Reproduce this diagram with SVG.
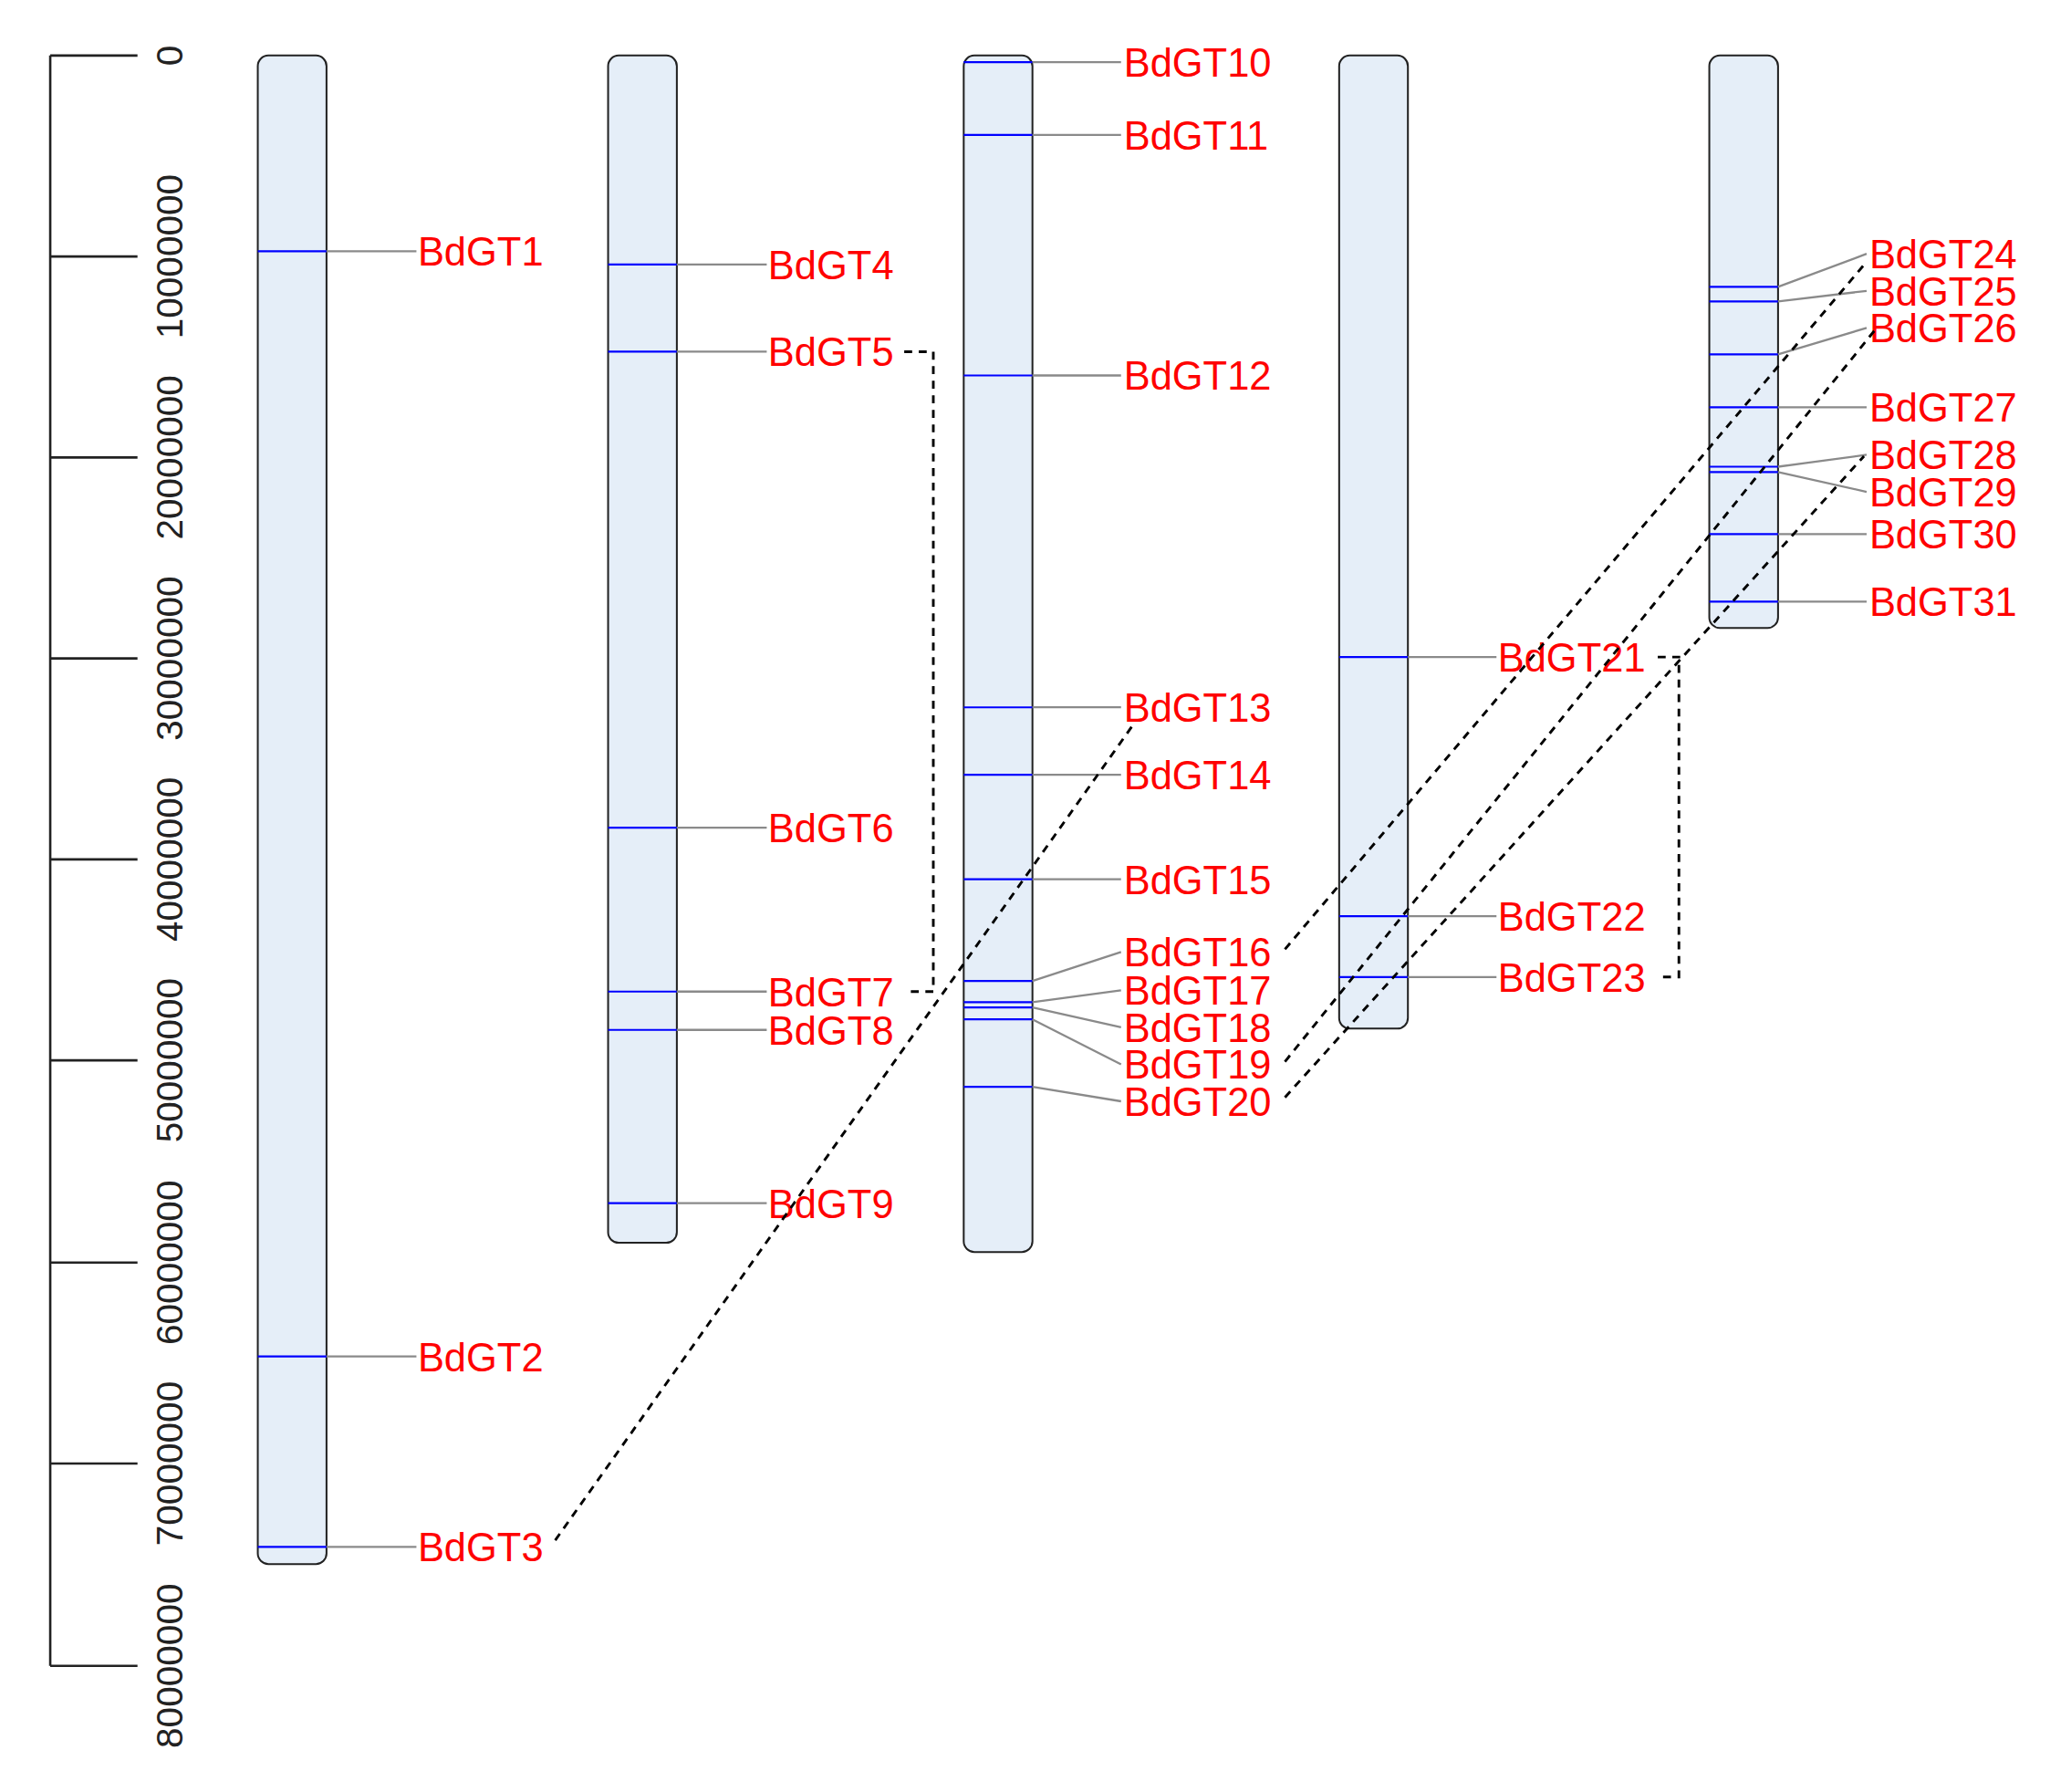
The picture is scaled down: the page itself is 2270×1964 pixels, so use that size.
<svg xmlns="http://www.w3.org/2000/svg" width="2270" height="1964" viewBox="0 0 2270 1964">
<style>
.chr{fill:#e5eef8;stroke:#222;stroke-width:1.4}
.band{stroke:#0000ff;stroke-width:1.5}
.lead{stroke:#8a8a8a;stroke-width:1.6;fill:none}
.lab{fill:#ff0000;font-family:"Liberation Sans",Arial,sans-serif;font-size:30px}
.ax{stroke:#222;stroke-width:1.8;fill:none}
.axl{fill:#222;font-family:"Liberation Sans",Arial,sans-serif;font-size:28px;text-anchor:middle}
.dash{stroke:#000;stroke-width:2;fill:none;stroke-dasharray:6,5}
</style>
<rect width="2270" height="1964" fill="#fff"/>
<g transform="scale(1.449)">
<g id="axis">
<path class="ax" d="M38,42V1260M38,42H104M38,194H104M38,346H104M38,498H104M38,650H104M38,802H104M38,955H104M38,1107H104M38,1260H104"/>
<text class="axl" transform="translate(138,42) rotate(-90)">0</text>
<text class="axl" transform="translate(138,194) rotate(-90)">10000000</text>
<text class="axl" transform="translate(138,346) rotate(-90)">20000000</text>
<text class="axl" transform="translate(138,498) rotate(-90)">30000000</text>
<text class="axl" transform="translate(138,650) rotate(-90)">40000000</text>
<text class="axl" transform="translate(138,802) rotate(-90)">50000000</text>
<text class="axl" transform="translate(138,955) rotate(-90)">60000000</text>
<text class="axl" transform="translate(138,1107) rotate(-90)">70000000</text>
<text class="axl" transform="translate(138,1260) rotate(-90)">80000000</text>
</g>
<g id="chr1">
<rect class="chr" x="195" y="42" width="52" height="1141" rx="8"/>
<path class="band" d="M195,190H247M195,1026H247M195,1170H247"/>
<path class="lead" d="M247,190H315M247,1026H315M247,1170H315"/>
<text class="lab" x="316" y="201">BdGT1</text>
<text class="lab" x="316" y="1037">BdGT2</text>
<text class="lab" x="316" y="1181">BdGT3</text>
</g>
<g id="chr2">
<rect class="chr" x="460" y="42" width="52" height="898" rx="8"/>
<path class="band" d="M460,200H512M460,266H512M460,626H512M460,750H512M460,779H512M460,910H512"/>
<path class="lead" d="M512,200H580M512,266H580M512,626H580M512,750H580M512,779H580M512,910H580"/>
<text class="lab" x="581" y="211">BdGT4</text>
<text class="lab" x="581" y="277">BdGT5</text>
<text class="lab" x="581" y="637">BdGT6</text>
<text class="lab" x="581" y="761">BdGT7</text>
<text class="lab" x="581" y="790">BdGT8</text>
<text class="lab" x="581" y="921">BdGT9</text>
</g>
<g id="chr3">
<rect class="chr" x="729" y="42" width="52" height="905" rx="8"/>
<path class="band" d="M729,47H781M729,102H781M729,284H781M729,535H781M729,586H781M729,665H781M729,742H781M729,758H781M729,762H781M729,771H781M729,822H781"/>
<path class="lead" d="M781,47H848M781,102H848M781,284H848M781,535H848M781,586H848M781,665H848M781,742L848,720M781,758L848,749M781,762L848,777M781,771L848,805M781,822L848,833"/>
<text class="lab" x="850" y="58">BdGT10</text>
<text class="lab" x="850" y="113">BdGT11</text>
<text class="lab" x="850" y="295">BdGT12</text>
<text class="lab" x="850" y="546">BdGT13</text>
<text class="lab" x="850" y="597">BdGT14</text>
<text class="lab" x="850" y="676">BdGT15</text>
<text class="lab" x="850" y="731">BdGT16</text>
<text class="lab" x="850" y="760">BdGT17</text>
<text class="lab" x="850" y="788">BdGT18</text>
<text class="lab" x="850" y="816">BdGT19</text>
<text class="lab" x="850" y="844">BdGT20</text>
</g>
<g id="chr4">
<rect class="chr" x="1013" y="42" width="52" height="736" rx="8"/>
<path class="band" d="M1013,497H1065M1013,693H1065M1013,739H1065"/>
<path class="lead" d="M1065,497H1132M1065,693H1132M1065,739H1132"/>
<text class="lab" x="1133" y="508">BdGT21</text>
<text class="lab" x="1133" y="704">BdGT22</text>
<text class="lab" x="1133" y="750">BdGT23</text>
</g>
<g id="chr5">
<rect class="chr" x="1293" y="42" width="52" height="433" rx="8"/>
<path class="band" d="M1293,217H1345M1293,228H1345M1293,268H1345M1293,308H1345M1293,353H1345M1293,357H1345M1293,404H1345M1293,455H1345"/>
<path class="lead" d="M1345,217L1412,192M1345,228L1412,220M1345,268L1412,248M1345,308H1412M1345,353L1412,344M1345,357L1412,372M1345,404H1412M1345,455H1412"/>
<text class="lab" x="1414" y="203">BdGT24</text>
<text class="lab" x="1414" y="231">BdGT25</text>
<text class="lab" x="1414" y="259">BdGT26</text>
<text class="lab" x="1414" y="319">BdGT27</text>
<text class="lab" x="1414" y="355">BdGT28</text>
<text class="lab" x="1414" y="383">BdGT29</text>
<text class="lab" x="1414" y="415">BdGT30</text>
<text class="lab" x="1414" y="466">BdGT31</text>
</g>
<g id="connectors">
<path class="dash" d="M684,266H706V750H684"/>
<path class="dash" stroke-width="1.6" d="M420,1165L858,547"/>
<path class="dash" stroke-width="1.4" d="M1254,497H1270V739H1254"/>
<path class="dash" stroke-width="1.6" d="M972,718L1412,198"/>
<path class="dash" stroke-width="1.6" d="M972,803L1418,250"/>
<path class="dash" stroke-width="1.6" d="M972,830L1410,345"/>
</g>
</g>
</svg>
